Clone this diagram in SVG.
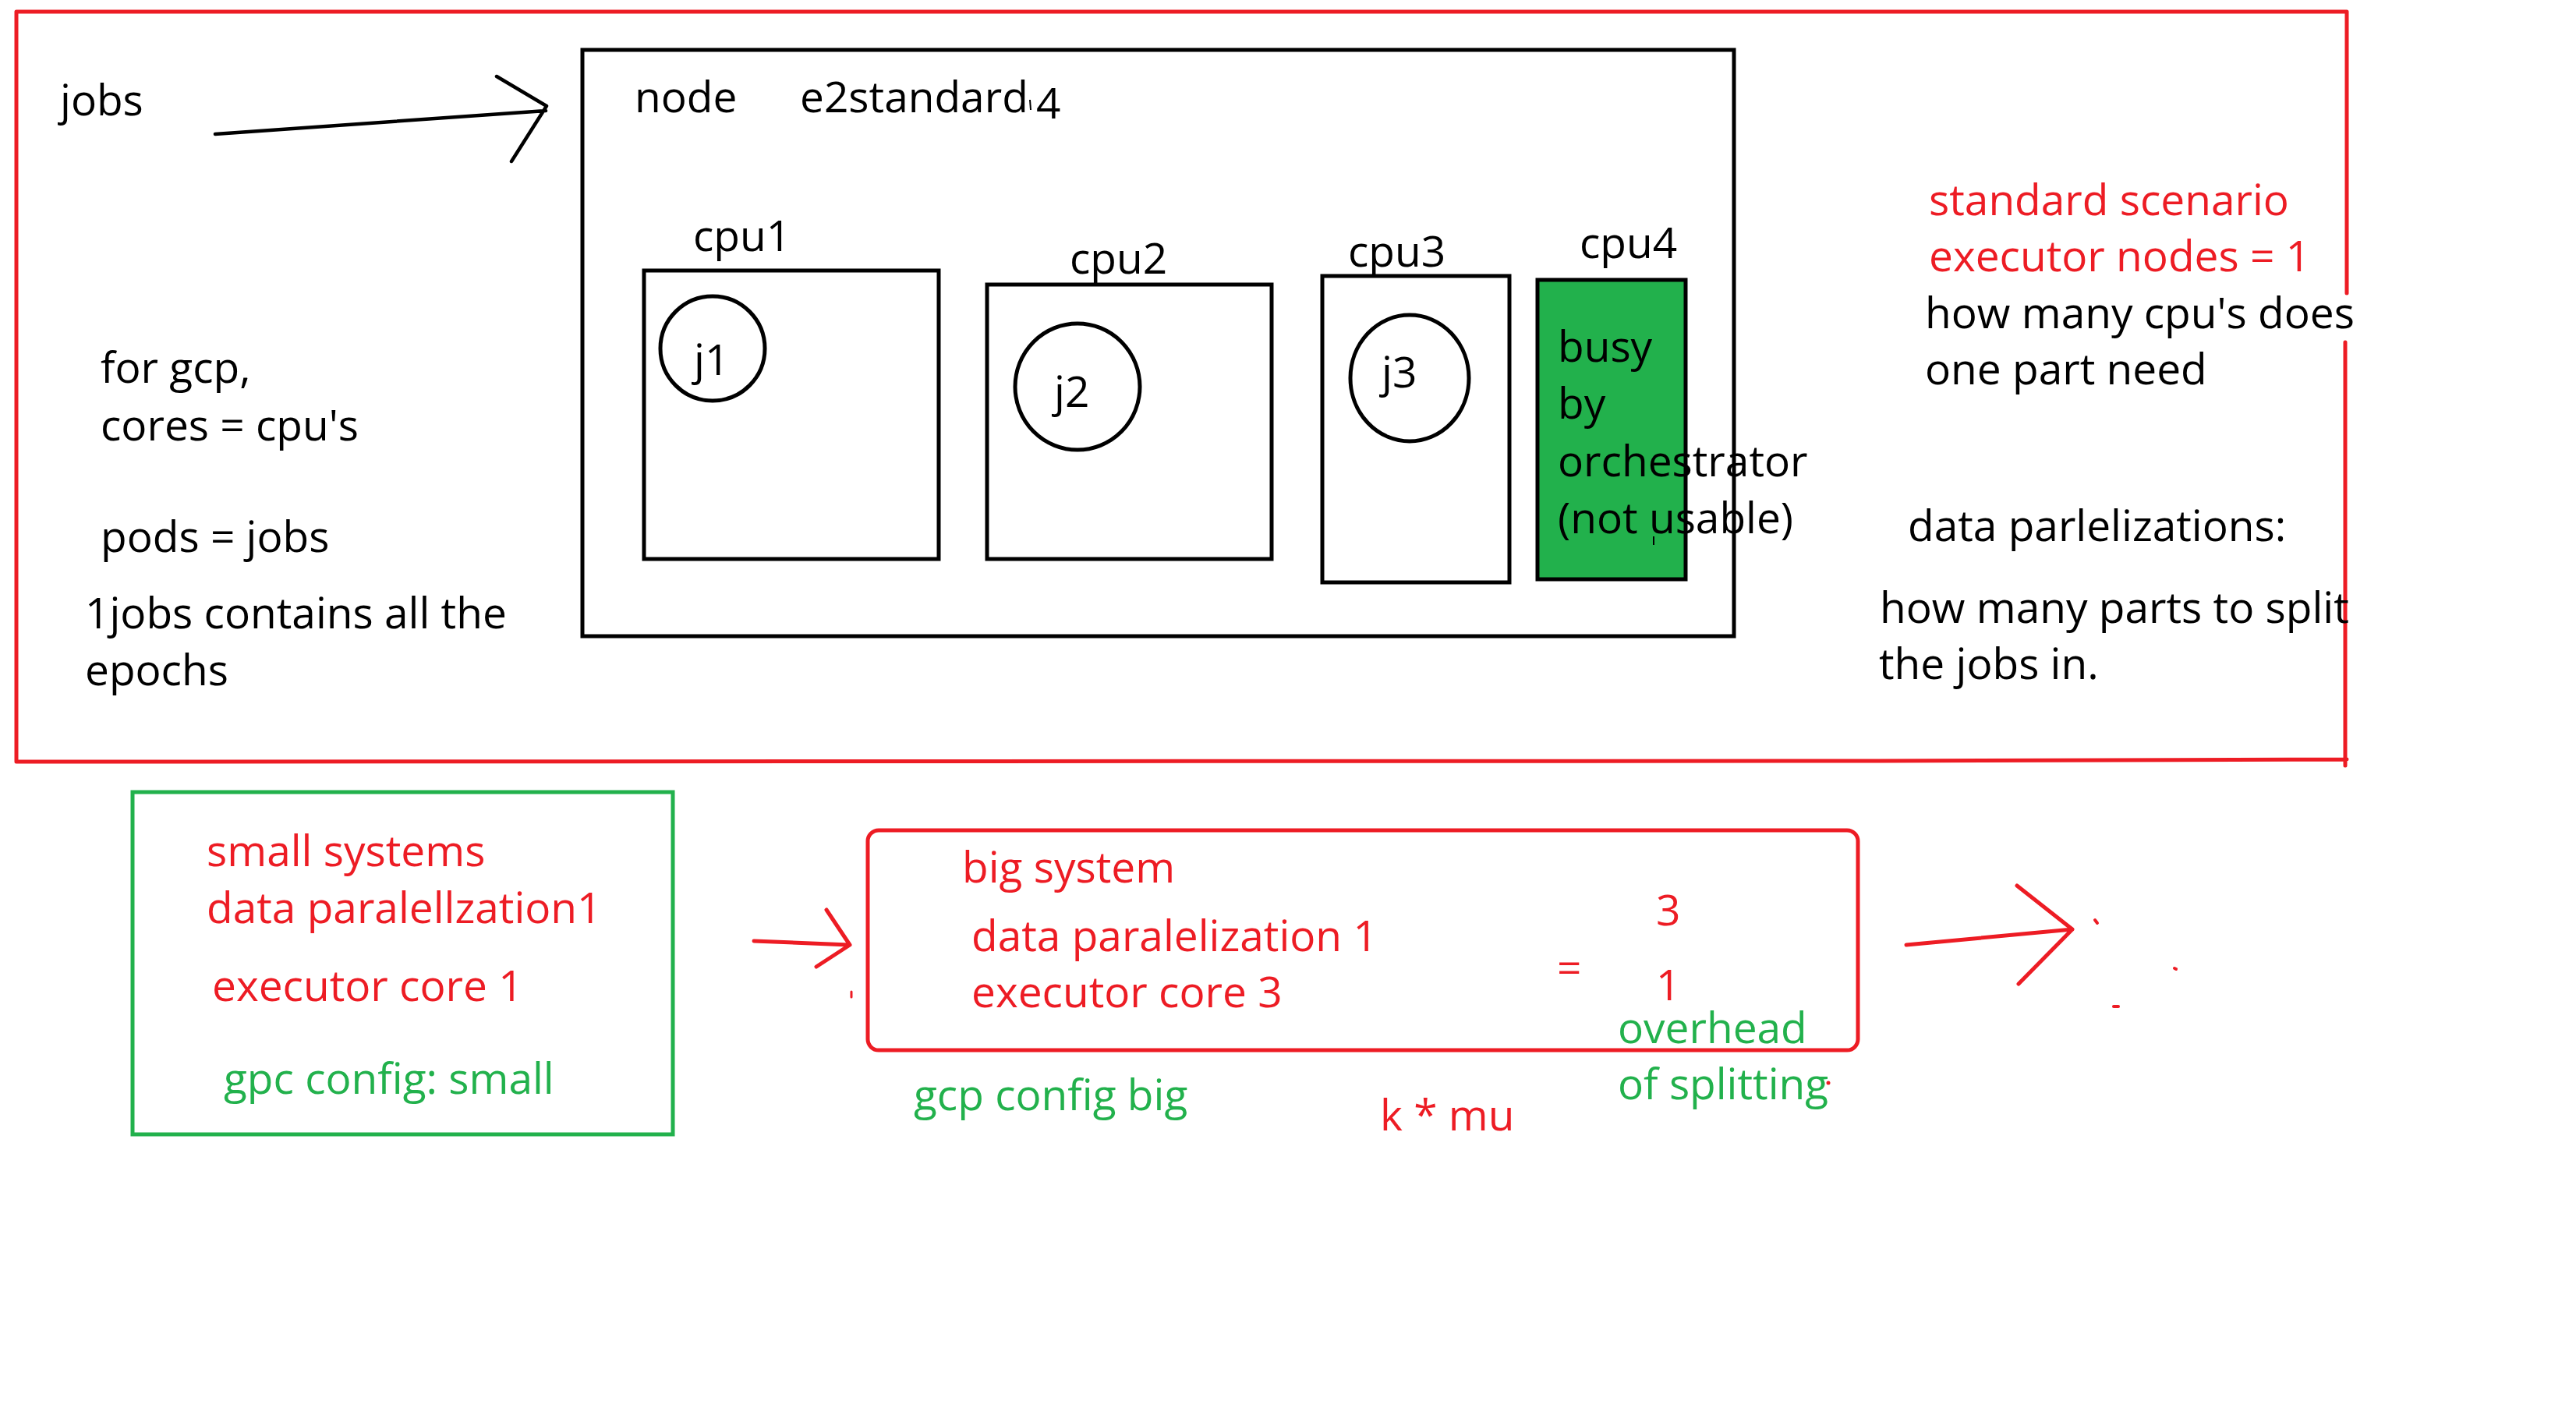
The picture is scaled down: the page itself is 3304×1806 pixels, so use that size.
<svg xmlns="http://www.w3.org/2000/svg" width="3304" height="1806" viewBox="0 0 3304 1806">
<style>
text{font-family:"Open Sans","Noto Sans","Liberation Sans",sans-serif;font-size:55px}
.k{fill:#000}
.r{fill:#ED1C24}
.g{fill:#22B14C}
.box{fill:none;stroke:#000;stroke-width:5}
.rl{fill:none;stroke:#ED1C24;stroke-width:5;stroke-linecap:round;stroke-linejoin:round}
.bl{fill:none;stroke:#000;stroke-width:4.5;stroke-linecap:round;stroke-linejoin:round}
</style>
<rect width="3304" height="1806" fill="#fff"/>

<g id="frame">
<path class="rl" d="M21 15 L3010 15 L3010 376 M3008 439 L3008 982 M3010 974 L2410 976 L21 977 L21 15"/>
</g>

<g id="jobs-label"><text class="k" x="77" y="148">jobs</text></g>

<g id="node">
<rect class="box" x="747" y="64" width="1477" height="752"/>
<text class="k" x="814" y="144">node</text>
<text class="k" x="1026" y="144">e2standard</text>
<line x1="1321" y1="128" x2="1322" y2="141" stroke="#000" stroke-width="2"/>
<text class="k" x="1329" y="152">4</text>
</g>

<g id="cpu1">
<rect class="box" x="826" y="347" width="378" height="370"/>
<text class="k" x="889" y="322">cpu1</text>
</g>
<g id="cpu2">
<rect class="box" x="1266" y="365" width="365" height="352"/>
<text class="k" x="1372" y="351">cpu2</text>
</g>
<g id="cpu3">
<rect class="box" x="1696" y="354" width="240" height="393"/>
<text class="k" x="1729" y="342">cpu3</text>
</g>
<g id="cpu4">
<rect x="1972" y="359" width="190" height="384" fill="#22B14C" stroke="#000" stroke-width="5"/>
<text class="k" x="2026" y="331">cpu4</text>
<text class="k" x="1998" y="464">busy</text>
<text class="k" x="1998" y="537">by</text>
<text class="k" x="1998" y="611">orchestrator</text>
<text class="k" x="1998" y="684">(not usable)</text>
<line x1="2121" y1="688" x2="2121" y2="699" stroke="#000" stroke-width="2"/>
</g>

<g id="j1">
<ellipse class="box" cx="914" cy="447" rx="67" ry="67"/>
<text class="k" x="890" y="481">j1</text>
</g>
<g id="j2">
<ellipse class="box" cx="1382" cy="496" rx="80" ry="81"/>
<text class="k" x="1352" y="522">j2</text>
</g>
<g id="j3">
<ellipse class="box" cx="1808" cy="485" rx="76" ry="81"/>
<text class="k" x="1772" y="497">j3</text>
</g>

<g id="notes-left">
<text class="k" x="129" y="491">for gcp,</text>
<text class="k" x="129" y="565">cores = cpu's</text>
<text class="k" x="129" y="708">pods = jobs</text>
<text class="k" x="109" y="806">1jobs contains all the</text>
<text class="k" x="109" y="879">epochs</text>
</g>

<g id="notes-right">
<text class="r" x="2474" y="276">standard scenario</text>
<text class="r" x="2474" y="348">executor nodes = 1</text>
<text class="k" x="2469" y="421">how many cpu's does</text>
<text class="k" x="2469" y="493">one part need</text>
<text class="k" x="2447" y="694">data parlelizations:</text>
<text class="k" x="2411" y="799">how many parts to split</text>
<text class="k" x="2410" y="871">the jobs in.</text>
</g>

<g id="small-systems">
<rect x="170" y="1016" width="693" height="439" fill="none" stroke="#22B14C" stroke-width="5"/>
<text class="r" x="265" y="1111">small systems</text>
<text class="r" x="265" y="1184">data paralellzation1</text>
<text class="r" x="272" y="1284">executor core 1</text>
<text class="g" x="287" y="1403">gpc config: small</text>
</g>

<g id="big-system">
<rect x="1113" y="1065" width="1270" height="282" rx="14" ry="14" fill="none" stroke="#ED1C24" stroke-width="5"/>
<text class="r" x="1234" y="1132">big system</text>
<text class="r" x="1246" y="1220">data paralelization 1</text>
<text class="r" x="1246" y="1292">executor core 3</text>
<text class="r" x="1997" y="1261">=</text>
<text class="r" x="2124" y="1187">3</text>
<text class="r" x="2124" y="1283">1</text>
<text class="g" x="2075" y="1338">overhead</text>
<text class="g" x="2075" y="1410">of splitting</text>
<circle cx="2345" cy="1389" r="2.5" fill="#ED1C24"/>
</g>

<g id="annotations-bottom">
<text class="g" x="1172" y="1424">gcp config big</text>
<text class="r" x="1770" y="1450">k * mu</text>
</g>

<g id="connectors">
<path class="bl" d="M276 172 L700 142 M637 98 L701 136 L656 207"/>
<path class="rl" d="M967 1207 L1089 1212 M1060 1167 L1090 1212 L1047 1240"/>
<line x1="1092" y1="1272" x2="1092" y2="1279" stroke="#ED1C24" stroke-width="3" stroke-linecap="round"/>
<path class="rl" d="M2445 1212 L2658 1192 M2587 1136 L2658 1192 L2589 1262"/>
<line x1="2687" y1="1180" x2="2690" y2="1184" stroke="#ED1C24" stroke-width="4" stroke-linecap="round"/>
<line x1="2789" y1="1242" x2="2791" y2="1243" stroke="#ED1C24" stroke-width="4" stroke-linecap="round"/>
<line x1="2711" y1="1291" x2="2717" y2="1291" stroke="#ED1C24" stroke-width="4" stroke-linecap="round"/>
</g>
</svg>
